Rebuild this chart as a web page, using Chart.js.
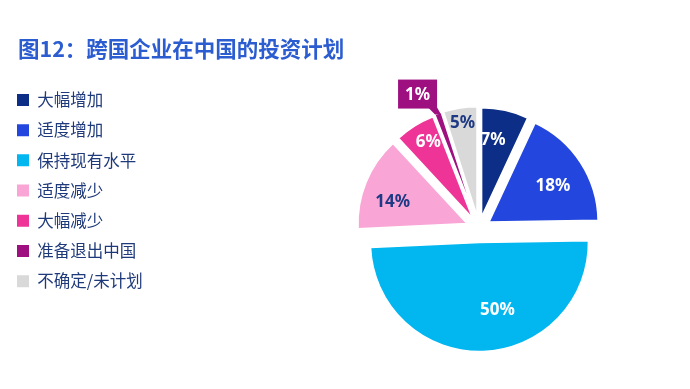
<!DOCTYPE html>
<html>
<head>
<meta charset="utf-8">
<script src="https://cdn.jsdelivr.net/npm/chart.js@4.4.0/dist/chart.umd.min.js"></script>
<style>
  html, body { margin: 0; padding: 0; background: #fff; }
  #wrap { position: relative; width: 690px; height: 389px; overflow: hidden; }
  #chart { position: absolute; left: 0; top: 0; }
  #title {
    position: absolute; left: 18px; top: 37px; margin: 0;
    font: bold 21.5px/1 "Noto Sans CJK SC", sans-serif;
    color: #2b5cd0; white-space: nowrap;
  }
</style>
</head>
<body>
<div id="wrap">
  <canvas id="chart" width="690" height="389"></canvas>
  <h1 id="title"></h1>
</div>
<script>
const titleText = '图12：跨国企业在中国的投资计划';
const categories = ['大幅增加', '适度增加', '保持现有水平', '适度减少', '大幅减少', '准备退出中国', '不确定/未计划'];
const shares = [7, 18, 50, 14, 6, 1, 5];

// styles
const colors = ['#0c2e86', '#2347de', '#02b6f0', '#f9a5d6', '#ee3597', '#9e1080', '#d9d9d9'];
const labelColors = ['#fff', '#fff', '#fff', '#1f3a84', '#fff', '#fff', '#1f3a84'];
const explode = [12, 12, 14, 13, 12, 13, 13];
// [share of radius out from the slice tip, turn in degrees]; null = callout box
const labelPlace = [[0.71, -4], [0.67, 4], [0.645, -13], [0.71, -6], [0.81, 2], null, [0.86, 0]];

document.getElementById('title').textContent = titleText;

// push the pie to the right by widening the legend box
const legendSpace = {
  id: 'legendSpace',
  beforeInit(chart) {
    const fit = chart.legend.fit;
    chart.legend.fit = function () {
      fit.call(this);
      this.width = 264.7;
    };
  }
};

const explodedPie = {
  id: 'explodedPie',
  beforeDatasetDraw(chart, args) {
    const ctx = chart.ctx;
    args.meta.data.forEach((arc, i) => {
      const mid = (arc.startAngle + arc.endAngle) / 2;
      ctx.save();
      ctx.translate(Math.cos(mid) * explode[i], Math.sin(mid) * explode[i]);
      arc.draw(ctx);
      ctx.restore();
    });
    return false;
  },
  afterDatasetsDraw(chart) {
    const ctx = chart.ctx;
    const arcs = chart.getDatasetMeta(0).data;
    ctx.save();
    ctx.font = 'bold 17px "Noto Sans", sans-serif';
    ctx.textAlign = 'center';
    ctx.textBaseline = 'middle';
    arcs.forEach((arc, i) => {
      const text = shares[i] + '%';
      const mid = (arc.startAngle + arc.endAngle) / 2;
      const tipX = arc.x + Math.cos(mid) * explode[i];
      const tipY = arc.y + Math.sin(mid) * explode[i];
      const place = labelPlace[i];
      if (place) {
        const a = mid + place[1] * Math.PI / 180;
        const r = arc.outerRadius * place[0];
        ctx.fillStyle = labelColors[i];
        ctx.fillText(text, tipX + Math.cos(a) * r, tipY + Math.sin(a) * r);
        return;
      }
      // thin slice: label in a box sitting on the end of the slice
      const rimX = tipX + Math.cos(mid) * arc.outerRadius;
      const rimY = tipY + Math.sin(mid) * arc.outerRadius;
      const w = 39, h = 29;
      const bx = rimX - w - 1, by = rimY - h - 5;
      ctx.fillStyle = colors[i];
      ctx.fillRect(bx, by, w, h);
      ctx.beginPath();
      ctx.moveTo(bx + w - 9, by + h - 1);
      ctx.lineTo(bx + w, by + h - 1);
      ctx.lineTo(rimX + 3, rimY + 1);
      ctx.lineTo(rimX - 3, rimY + 1);
      ctx.closePath();
      ctx.fill();
      ctx.fillStyle = labelColors[i];
      ctx.fillText(text, bx + w / 2, by + h / 2 + 1);
    });
    ctx.restore();
  }
};

const ctx = document.getElementById('chart').getContext('2d');
const chart = new Chart(ctx, {
  type: 'pie',
  data: {
    labels: categories,
    datasets: [{
      data: shares,
      backgroundColor: colors,
      borderColor: '#fff',
      borderWidth: 1.5
    }]
  },
  options: {
    responsive: false,
    animation: false,
    radius: 109,
    layout: { padding: { top: 78, left: 3.3, right: 0, bottom: 10 } },
    plugins: {
      legend: {
        position: 'left',
        align: 'start',
        labels: {
          boxWidth: 12,
          boxHeight: 12,
          padding: 13.7,
          color: '#1f3a7a',
          font: { family: '"Noto Sans CJK SC", sans-serif', size: 16.5 },
          generateLabels: (c) => Chart.overrides.doughnut.plugins.legend.labels
            .generateLabels(c).map(item => ({ ...item, lineWidth: 0 }))
        }
      },
      tooltip: { enabled: false }
    }
  },
  plugins: [legendSpace, explodedPie]
});
</script>
</body>
</html>
